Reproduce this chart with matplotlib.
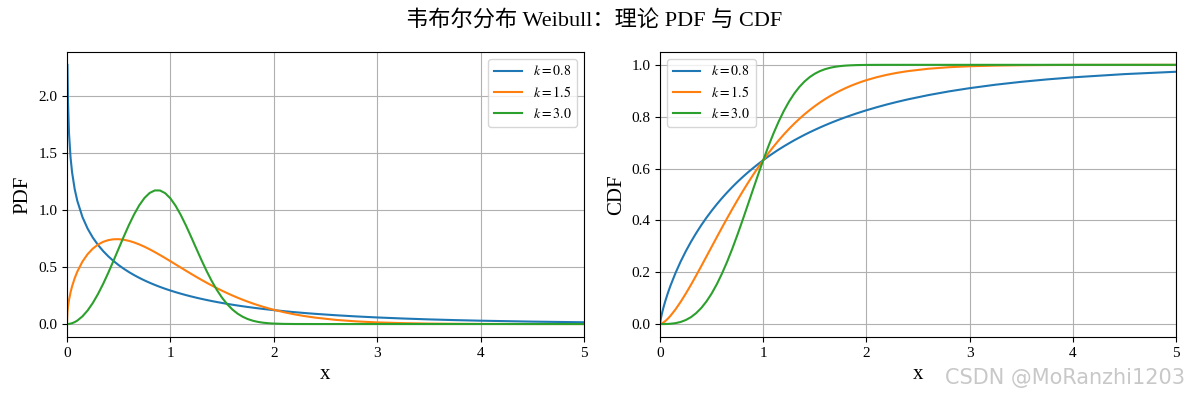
import numpy as np
import matplotlib
matplotlib.use("Agg")
import matplotlib.pyplot as plt

plt.rcParams['font.family'] = ['Liberation Serif', 'Noto Sans CJK SC', 'DejaVu Sans']
plt.rcParams['mathtext.fontset'] = 'stix'
plt.rcParams['axes.unicode_minus'] = False

# shape parameters shown in the legend
shape_k = [0.8, 1.5, 3.0]

# x positions
x = [0, 0.005, 0.01, 0.02, 0.035, 0.05, 0.075, 0.1, 0.15, 0.2, 0.25, 0.3, 0.35, 0.4,
     0.45, 0.5, 0.55, 0.6, 0.65, 0.7, 0.75, 0.8, 0.85, 0.9, 0.95, 1.0, 1.05, 1.1,
     1.15, 1.2, 1.25, 1.3, 1.35, 1.4, 1.45, 1.5, 1.55, 1.6, 1.65, 1.7, 1.75, 1.8,
     1.85, 1.9, 1.95, 2.0, 2.1, 2.2, 2.3, 2.4, 2.6, 2.8, 3.0, 3.25, 3.5, 3.75,
     4.0, 4.5, 5.0]

# PDF values (k = 0.8 is unbounded at x = 0, so no point there)
pdf_k08 = [np.nan, 2.2752, 1.9597, 1.6745, 1.4607, 1.3297, 1.1841, 1.0821, 0.9391,
           0.8376, 0.7590, 0.6949, 0.6408, 0.5943, 0.5536, 0.5174, 0.4851, 0.4559,
           0.4294, 0.4051, 0.3829, 0.3624, 0.3434, 0.3259, 0.3095, 0.2943, 0.2801,
           0.2668, 0.2543, 0.2425, 0.2315, 0.2211, 0.2113, 0.2020, 0.1933, 0.1850,
           0.1771, 0.1697, 0.1627, 0.1560, 0.1496, 0.1435, 0.1378, 0.1323, 0.1271,
           0.1221, 0.1128, 0.1043, 0.0966, 0.0896, 0.0772, 0.0667, 0.0578, 0.0485,
           0.0408, 0.0345, 0.0293, 0.0212, 0.0155]
pdf_k15 = [0.0, 0.1060, 0.1499, 0.2115, 0.2788, 0.3317, 0.4024, 0.4596, 0.5482,
           0.6134, 0.6619, 0.6971, 0.7214, 0.7366, 0.7440, 0.7448, 0.7398, 0.7300,
           0.7161, 0.6987, 0.6785, 0.6560, 0.6316, 0.6059, 0.5792, 0.5518, 0.5241,
           0.4963, 0.4687, 0.4414, 0.4146, 0.3885, 0.3631, 0.3387, 0.3151, 0.2926,
           0.2711, 0.2507, 0.2314, 0.2132, 0.1960, 0.1799, 0.1648, 0.1507, 0.1376,
           0.1254, 0.1036, 0.0852, 0.0695, 0.0564, 0.0365, 0.0232, 0.0144, 0.0077,
           0.0040, 0.0020, 0.0010, 0.0002, 0.0000]
pdf_k30 = [0.0, 0.0001, 0.0003, 0.0012, 0.0037, 0.0075, 0.0169, 0.0300, 0.0673,
           0.1190, 0.1846, 0.2628, 0.3521, 0.4502, 0.5546, 0.6619, 0.7684, 0.8702,
           0.9632, 1.0432, 1.1067, 1.1507, 1.1728, 1.1723, 1.1487, 1.1036, 1.0393,
           0.9590, 0.8670, 0.7674, 0.6649, 0.5634, 0.4670, 0.3781, 0.2991, 0.2310,
           0.1740, 0.1278, 0.0915, 0.0637, 0.0432, 0.0285, 0.0183, 0.0114, 0.0069,
           0.0040, 0.0013, 0.0003, 0.0001, 0.0, 0.0, 0.0, 0.0, 0.0, 0.0, 0.0, 0.0,
           0.0, 0.0]

# CDF values
cdf_k08 = [0.0, 0.0143, 0.0248, 0.0428, 0.0661, 0.0870, 0.1183, 0.1466, 0.1968,
           0.2412, 0.2810, 0.3173, 0.3506, 0.3815, 0.4102, 0.4369, 0.4620, 0.4855,
           0.5076, 0.5285, 0.5482, 0.5668, 0.5844, 0.6011, 0.6170, 0.6321, 0.6465,
           0.6601, 0.6732, 0.6856, 0.6974, 0.7088, 0.7195, 0.7299, 0.7398, 0.7492,
           0.7583, 0.7669, 0.7753, 0.7832, 0.7909, 0.7982, 0.8052, 0.8120, 0.8184,
           0.8247, 0.8364, 0.8473, 0.8573, 0.8666, 0.8832, 0.8976, 0.9100, 0.9233,
           0.9344, 0.9438, 0.9517, 0.9642, 0.9733]
cdf_k15 = [0.0, 0.0004, 0.0010, 0.0028, 0.0065, 0.0111, 0.0203, 0.0311, 0.0564,
           0.0856, 0.1175, 0.1515, 0.1870, 0.2235, 0.2606, 0.2978, 0.3350, 0.3717,
           0.4079, 0.4433, 0.4777, 0.5111, 0.5433, 0.5742, 0.6039, 0.6321, 0.6590,
           0.6845, 0.7087, 0.7314, 0.7528, 0.7729, 0.7916, 0.8092, 0.8255, 0.8407,
           0.8548, 0.8679, 0.8799, 0.8910, 0.9012, 0.9106, 0.9192, 0.9271, 0.9343,
           0.9409, 0.9523, 0.9617, 0.9694, 0.9757, 0.9849, 0.9908, 0.9945, 0.9971,
           0.9986, 0.9993, 0.9997, 0.9999, 1.0]
cdf_k30 = [0.0, 0.0, 0.0, 0.0, 0.0, 0.0001, 0.0004, 0.0010, 0.0034, 0.0080, 0.0155,
           0.0266, 0.0420, 0.0620, 0.0871, 0.1175, 0.1533, 0.1943, 0.2401, 0.2903,
           0.3442, 0.4007, 0.4589, 0.5176, 0.5757, 0.6321, 0.6858, 0.7358, 0.7815,
           0.8224, 0.8582, 0.8889, 0.9146, 0.9357, 0.9526, 0.9658, 0.9759, 0.9834,
           0.9888, 0.9927, 0.9953, 0.9971, 0.9982, 0.9990, 0.9994, 0.9997, 0.9999,
           1.0, 1.0, 1.0, 1.0, 1.0, 1.0, 1.0, 1.0, 1.0, 1.0, 1.0, 1.0]

pdf_list = [pdf_k08, pdf_k15, pdf_k30]
cdf_list = [cdf_k08, cdf_k15, cdf_k30]

fig = plt.figure(figsize=(11.89, 3.96), dpi=100)
ax1 = fig.add_axes([0.0563, 0.149, 0.4348, 0.720])
ax2 = fig.add_axes([0.5551, 0.149, 0.4340, 0.720])

for k, y in zip(shape_k, pdf_list):
    ax1.plot(x, y, label=f"$k={k}$")
for k, y in zip(shape_k, cdf_list):
    ax2.plot(x, y, label=f"$k={k}$")

ax1.set_xlim(0, 5)
ax2.set_xlim(0, 5)
ax1.set_yticks([0.0, 0.5, 1.0, 1.5, 2.0])
ax2.set_yticks([0.0, 0.2, 0.4, 0.6, 0.8, 1.0])

ax1.set_xlabel("x", fontsize=15)
ax1.set_ylabel("PDF", fontsize=15)
ax2.set_xlabel("x", fontsize=15)
ax2.set_ylabel("CDF", fontsize=15)

for ax in (ax1, ax2):
    ax.grid(True)
    ax.tick_params(labelsize=11)

ax1.legend(loc="upper right", fontsize=10)
ax2.legend(loc="upper left", fontsize=10)

fig.suptitle("韦布尔分布 Weibull：理论 PDF 与 CDF", fontsize=16, y=0.975)

# watermark in the bottom right corner
fig.text(0.997, 0.045, "CSDN @MoRanzhi1203", ha="right", va="center",
         fontsize=15, color="#c8c8c8", family="DejaVu Sans")

fig.savefig("out.png", dpi=100)
